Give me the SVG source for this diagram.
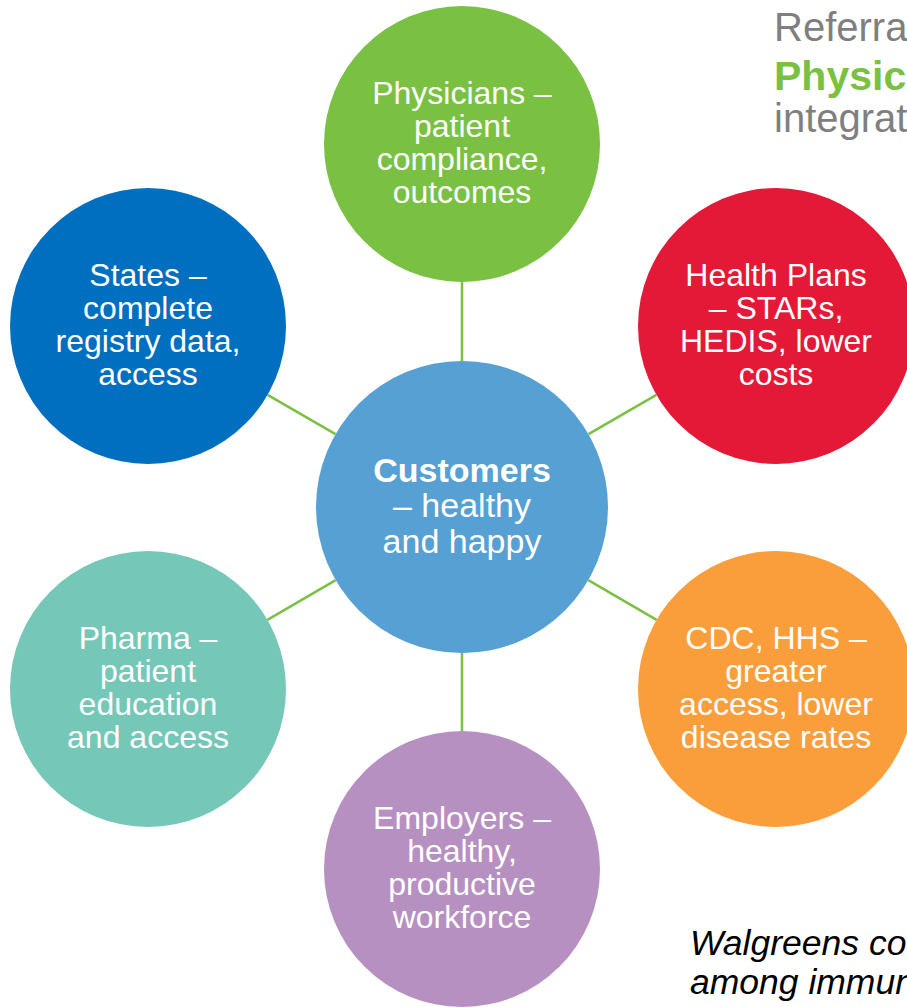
<svg xmlns="http://www.w3.org/2000/svg" width="907" height="1007" viewBox="0 0 907 1007">
  <style>
    .conn { stroke: #7AC143; stroke-width: 2.5; fill: none; }
    .lbl { font-family: "Liberation Sans", Arial, sans-serif; font-size: 32px; fill: #FFFFFF; text-anchor: middle; }
    .clbl { font-family: "Liberation Sans", Arial, sans-serif; font-size: 34px; fill: #FFFFFF; text-anchor: middle; }
    .title { font-family: "Liberation Sans", Arial, sans-serif; font-size: 40px; fill: #7F7F7F; }
    .title-em { font-family: "Liberation Sans", Arial, sans-serif; font-size: 41px; font-weight: bold; fill: #7AC143; }
    .note { font-family: "Liberation Sans", Arial, sans-serif; font-size: 35.5px; font-style: italic; fill: #000000; }
  </style>
  <rect width="907" height="1007" fill="#FFFFFF"/>
  <g id="connectors">
    <line class="conn" x1="462" y1="282" x2="462" y2="361"/>
    <line class="conn" x1="462" y1="653" x2="462" y2="731"/>
    <line class="conn" x1="267.6" y1="394.9" x2="335.5" y2="434.1"/>
    <line class="conn" x1="656.4" y1="394.9" x2="588.5" y2="434.1"/>
    <line class="conn" x1="267.4" y1="619.8" x2="335.7" y2="580.2"/>
    <line class="conn" x1="656.6" y1="619.8" x2="588.3" y2="580.2"/>
  </g>
  <g id="node-physicians">
    <circle cx="462" cy="144" r="138" fill="#7AC143"/>
    <text class="lbl"><tspan x="462" y="104">Physicians –</tspan><tspan x="462" y="137">patient</tspan><tspan x="462" y="170">compliance,</tspan><tspan x="462" y="203">outcomes</tspan></text>
  </g>
  <g id="node-states">
    <circle cx="148" cy="326" r="138" fill="#006FBF"/>
    <text class="lbl"><tspan x="148" y="286">States –</tspan><tspan x="148" y="319">complete</tspan><tspan x="148" y="352">registry data,</tspan><tspan x="148" y="385">access</tspan></text>
  </g>
  <g id="node-healthplans">
    <circle cx="776" cy="326" r="138" fill="#E31937"/>
    <text class="lbl"><tspan x="776" y="286">Health Plans</tspan><tspan x="776" y="319">– STARs,</tspan><tspan x="776" y="352">HEDIS, lower</tspan><tspan x="776" y="385">costs</tspan></text>
  </g>
  <g id="node-customers">
    <circle cx="462" cy="507" r="146" fill="#57A0D3"/>
    <text class="clbl"><tspan x="462" y="482" font-weight="bold">Customers</tspan><tspan x="462" y="517">– healthy</tspan><tspan x="462" y="553">and happy</tspan></text>
  </g>
  <g id="node-pharma">
    <circle cx="148" cy="689" r="138" fill="#75C7B8"/>
    <text class="lbl"><tspan x="148" y="649">Pharma –</tspan><tspan x="148" y="682">patient</tspan><tspan x="148" y="715">education</tspan><tspan x="148" y="748">and access</tspan></text>
  </g>
  <g id="node-cdc">
    <circle cx="776" cy="689" r="138" fill="#FA9E3B"/>
    <text class="lbl"><tspan x="776" y="649">CDC, HHS –</tspan><tspan x="776" y="682">greater</tspan><tspan x="776" y="715">access, lower</tspan><tspan x="776" y="748">disease rates</tspan></text>
  </g>
  <g id="node-employers">
    <circle cx="462" cy="869" r="138" fill="#B790C2"/>
    <text class="lbl"><tspan x="462" y="829">Employers –</tspan><tspan x="462" y="862">healthy,</tspan><tspan x="462" y="895">productive</tspan><tspan x="462" y="928">workforce</tspan></text>
  </g>
  <g id="title-text">
    <text class="title" x="774" y="41">Referra</text>
    <text class="title-em" x="774" y="90">Physic</text>
    <text class="title" x="774" y="132">integrat</text>
  </g>
  <g id="note-text">
    <text class="note" x="690" y="955">Walgreens co</text>
    <text class="note" x="690" y="994">among immun</text>
  </g>
</svg>
